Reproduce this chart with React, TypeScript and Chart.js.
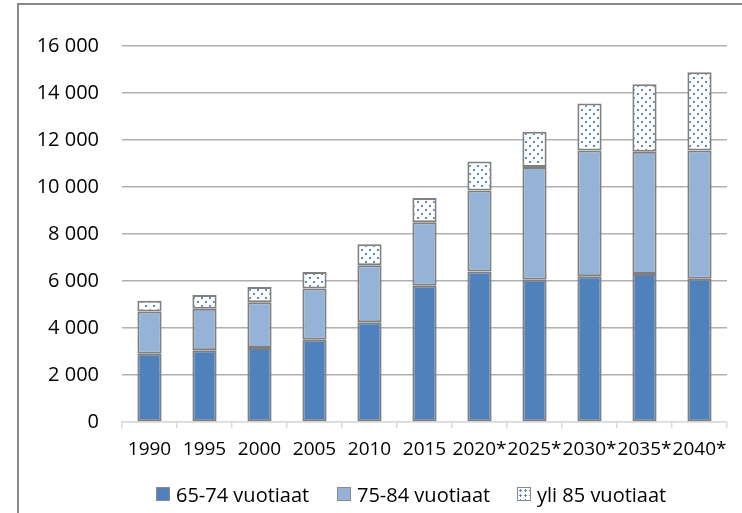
import React, { useEffect, useRef } from "react";
import { Chart, registerables } from "chart.js";

Chart.register(...registerables);

const categories = ["1990", "1995", "2000", "2005", "2010", "2015", "2020*", "2025*", "2030*", "2035*", "2040*"];
const age65to74 = [2900, 3050, 3150, 3500, 4250, 5800, 6400, 6050, 6200, 6300, 6100];
const age75to84 = [1800, 1770, 1950, 2180, 2420, 2700, 3450, 4800, 5350, 5200, 5450];
const age85plus = [460, 580, 650, 700, 890, 1030, 1230, 1500, 2000, 2870, 3330];
const seriesNames = ["65-74 vuotiaat", "75-84 vuotiaat", "yli 85 vuotiaat"];
const seriesColors = ["#4f81bd", "#95b3d7", "pattern"];

const FONT = "'Open Sans', 'Noto Sans', sans-serif";

function makeDotPattern(): CanvasPattern | string {
  const c = document.createElement("canvas");
  c.width = 8;
  c.height = 8;
  const ctx = c.getContext("2d");
  if (!ctx) return "#ffffff";
  ctx.fillStyle = "#ffffff";
  ctx.fillRect(0, 0, 8, 8);
  ctx.fillStyle = "#5a88c4";
  ctx.fillRect(1, 1, 2, 2);
  ctx.fillRect(5, 5, 2, 2);
  const p = ctx.createPattern(c, "repeat");
  return p || "#ffffff";
}

function fmt(v: number): string {
  return String(v).replace(/\B(?=(\d{3})+(?!\d))/g, " ");
}

const legendX = [156, 337, 517];

export default function App() {
  const ref = useRef<HTMLCanvasElement>(null);

  useEffect(() => {
    if (!ref.current) return;
    const pattern = makeDotPattern();
    const common = {
      borderColor: "#7f7f7f",
      borderWidth: 2,
      borderSkipped: false as const,
      barPercentage: 0.88,
      categoryPercentage: 0.5,
    };
    const chart = new Chart(ref.current, {
      type: "bar",
      data: {
        labels: categories,
        datasets: [
          { label: seriesNames[0], data: age65to74, backgroundColor: seriesColors[0], ...common },
          { label: seriesNames[1], data: age75to84, backgroundColor: seriesColors[1], ...common },
          { label: seriesNames[2], data: age85plus, backgroundColor: pattern as any, ...common },
        ],
      },
      options: {
        animation: false,
        responsive: false,
        maintainAspectRatio: false,
        layout: { padding: { top: 46, right: 15, bottom: 40, left: 0 } },
        plugins: {
          tooltip: { enabled: false },
          legend: { display: false },
        },
        scales: {
          x: {
            stacked: true,
            grid: {
              drawOnChartArea: false,
              drawTicks: true,
              tickLength: 6,
              color: "#d9d9d9",
              lineWidth: 1.5,
              offset: true,
            },
            border: { display: true, color: "#d9d9d9", width: 1.5 },
            ticks: {
              font: { family: FONT, size: 19 },
              color: "#000",
              autoSkip: false,
              maxRotation: 0,
              minRotation: 0,
              padding: 10,
            },
            afterFit: (s: any) => {
              s.height = 51;
            },
          },
          y: {
            stacked: true,
            min: 0,
            max: 16000,
            grid: {
              drawTicks: false,
              color: (ctx: any) => (ctx.tick && ctx.tick.value === 0 ? "#d9d9d9" : "#b0b0b0"),
              lineWidth: 1.6,
            },
            border: { display: false },
            ticks: {
              stepSize: 2000,
              font: { family: FONT, size: 20 },
              color: "#000",
              padding: 23,
              callback: (v: any) => fmt(Number(v)),
            },
            afterFit: (s: any) => {
              s.width = 122;
            },
          },
        },
      },
    });
    return () => chart.destroy();
  }, []);

  return (
    <div
      style={{
        position: "fixed",
        left: 0,
        top: 0,
        width: 742,
        height: 513,
        overflow: "hidden",
        background: "#fff",
      }}
    >
      <div
        style={{
          position: "absolute",
          left: 17,
          top: 3,
          width: 800,
          height: 600,
          border: "2px solid #898989",
          boxSizing: "border-box",
        }}
      />
      <canvas ref={ref} width={742} height={513} style={{ position: "absolute", left: 0, top: 0 }} />
      {seriesNames.map((name, i) => (
        <div
          key={name}
          style={{
            position: "absolute",
            left: legendX[i],
            top: 480,
            height: 28,
            display: "flex",
            alignItems: "center",
            fontFamily: FONT,
            fontSize: 20,
            color: "#000",
            whiteSpace: "nowrap",
          }}
        >
          <span
            style={{
              display: "inline-block",
              width: 14,
              height: 14,
              boxSizing: "border-box",
              border: "1px solid #8a8a8a",
              marginRight: 6,
              background:
                seriesColors[i] === "pattern"
                  ? "radial-gradient(circle, #5a88c4 35%, transparent 40%) 0 0 / 5px 5px, #ffffff"
                  : seriesColors[i],
            }}
          />
          <span>{name}</span>
        </div>
      ))}
    </div>
  );
}
